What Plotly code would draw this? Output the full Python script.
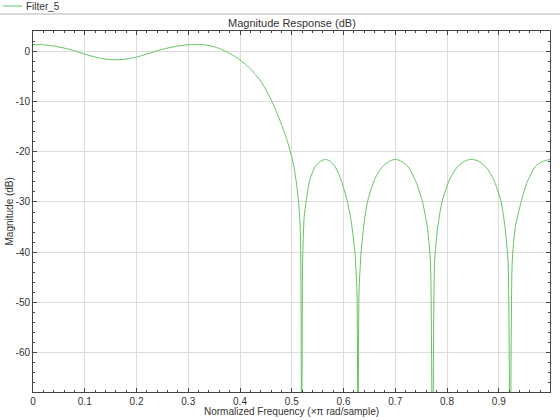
import plotly.graph_objects as go

# Normalized frequency (x pi rad/sample) and magnitude (dB)
freq = [0.00, 0.02, 0.04, 0.06, 0.08, 0.10, 0.12, 0.14, 0.16, 0.18, 0.20, 0.22, 0.24,
        0.26, 0.28, 0.30, 0.32, 0.33, 0.34, 0.35, 0.36, 0.37, 0.38, 0.39, 0.40, 0.41,
        0.42, 0.43, 0.44, 0.45, 0.46, 0.47, 0.48, 0.49, 0.50, 0.505, 0.51, 0.514, 0.517,
        0.519, 0.521, 0.524, 0.528, 0.535, 0.545, 0.555, 0.565, 0.575, 0.585, 0.595,
        0.607, 0.615, 0.622, 0.626, 0.628, 0.630, 0.634, 0.640, 0.647, 0.660, 0.675,
        0.690, 0.700, 0.710, 0.725, 0.740, 0.752, 0.762, 0.768, 0.772, 0.776, 0.782,
        0.791, 0.805, 0.820, 0.835, 0.847, 0.860, 0.875, 0.890, 0.904, 0.912, 0.918,
        0.922, 0.926, 0.932, 0.944, 0.955, 0.970, 0.985, 1.000]
mag_db = [1.4, 1.35, 1.1, 0.7, 0.15, -0.5, -1.1, -1.5, -1.65, -1.5, -1.1, -0.5, 0.15,
          0.7, 1.1, 1.35, 1.4, 1.35, 1.2, 0.95, 0.6, 0.15, -0.35, -0.95, -1.7, -2.5,
          -3.4, -4.6, -5.9, -7.6, -9.6, -11.9, -14.5, -17.4, -21.0, -23.5, -27.0, -31.0, -37.0,
          -90.0, -42.0, -33.0, -29.7, -25.5, -23.0, -21.9, -21.5, -21.9, -23.2, -25.5,
          -29.7, -34.0, -40.0, -48.0, -90.0, -48.0, -40.0, -34.0, -29.7, -25.5, -23.0,
          -21.8, -21.5, -21.8, -23.0, -26.0, -29.7, -35.0, -42.0, -90.0, -42.0, -35.0,
          -29.7, -25.5, -23.0, -21.8, -21.5, -21.8, -23.0, -25.5, -29.7, -35.0, -42.0,
          -90.0, -42.0, -35.0, -29.7, -26.0, -23.0, -21.9, -21.5]

series_name = "Filter_5"
x_ticks = [0, 0.1, 0.2, 0.3, 0.4, 0.5, 0.6, 0.7, 0.8, 0.9]
y_ticks = [0, -10, -20, -30, -40, -50, -60]

line_color = "rgb(100,195,100)"
frame_color = "#444444"
grid_color = "#dcdcdc"
text_color = "#333333"
font = "Liberation Sans, Arial, sans-serif"

W, H = 560, 420
L, R, T, B = 33, 10, 31, 28
PW, PH = W - L - R, H - T - B


def px(xp):
    return (xp - L) / PW


def py(yp):
    return 1 - (yp - T) / PH


fig = go.Figure()
fig.add_trace(go.Scatter(x=freq, y=mag_db, mode="lines", name=series_name,
                         line=dict(color=line_color, width=1, shape="spline", smoothing=0.6),
                         showlegend=False))

axis_common = dict(
    automargin=False,
    showline=True, linecolor=frame_color, linewidth=1, mirror="ticks",
    ticks="inside", ticklen=4, tickcolor=frame_color, tickwidth=1,
    showgrid=True, gridcolor=grid_color, gridwidth=1, zeroline=False,
    tickfont=dict(family=font, size=10, color=text_color),
)

fig.update_xaxes(range=[0, 0.999], tickvals=x_ticks, ticktext=[str(v) for v in x_ticks],
                 minor=dict(dtick=0.02, ticks="inside", ticklen=2, tickcolor=frame_color, showgrid=False),
                 ticklabelstandoff=0,
                 **axis_common)
fig.update_yaxes(range=[-67.9, 4.1], tickvals=y_ticks, ticktext=[str(v) for v in y_ticks],
                 minor=dict(dtick=2, tick0=0, ticks="inside", ticklen=2, tickcolor=frame_color, showgrid=False),
                 **axis_common)

fig.update_layout(
    width=W, height=H,
    margin=dict(l=L, r=R, t=T, b=B, autoexpand=False),
    paper_bgcolor="white", plot_bgcolor="white",
    font=dict(family=font, size=10, color=text_color),
    showlegend=False,
    shapes=[
        dict(type="line", xref="paper", yref="paper", x0=px(0), x1=px(W),
             y0=py(14), y1=py(14), line=dict(color="#b0b0b0", width=1)),
        dict(type="line", xref="paper", yref="paper", x0=px(3), x1=px(22),
             y0=py(6), y1=py(6), line=dict(color=line_color, width=1)),
    ],
    annotations=[
        dict(text=series_name, xref="paper", yref="paper", x=px(24), y=py(6),
             xanchor="left", yanchor="middle", showarrow=False,
             font=dict(family=font, size=10, color=text_color)),
        dict(text="Magnitude Response (dB)", xref="paper", yref="paper",
             x=px((L + W - R) / 2), y=py(23), xanchor="center", yanchor="middle",
             showarrow=False, font=dict(family=font, size=11, color=text_color)),
        dict(text="Normalized Frequency (\u00d7\u03c0 rad/sample)", xref="paper", yref="paper",
             x=px((L + W - R) / 2), y=py(411), xanchor="center", yanchor="middle",
             showarrow=False, font=dict(family=font, size=10, color=text_color)),
        dict(text="Magnitude (dB)", xref="paper", yref="paper", textangle=-90,
             x=px(9), y=py((T + H - B) / 2), xanchor="center", yanchor="middle",
             showarrow=False, font=dict(family=font, size=10, color=text_color)),
    ],
)

fig.write_html("out.html", config={"displayModeBar": False},
               post_script="document.body.style.margin='0px';document.body.style.padding='0px';")
